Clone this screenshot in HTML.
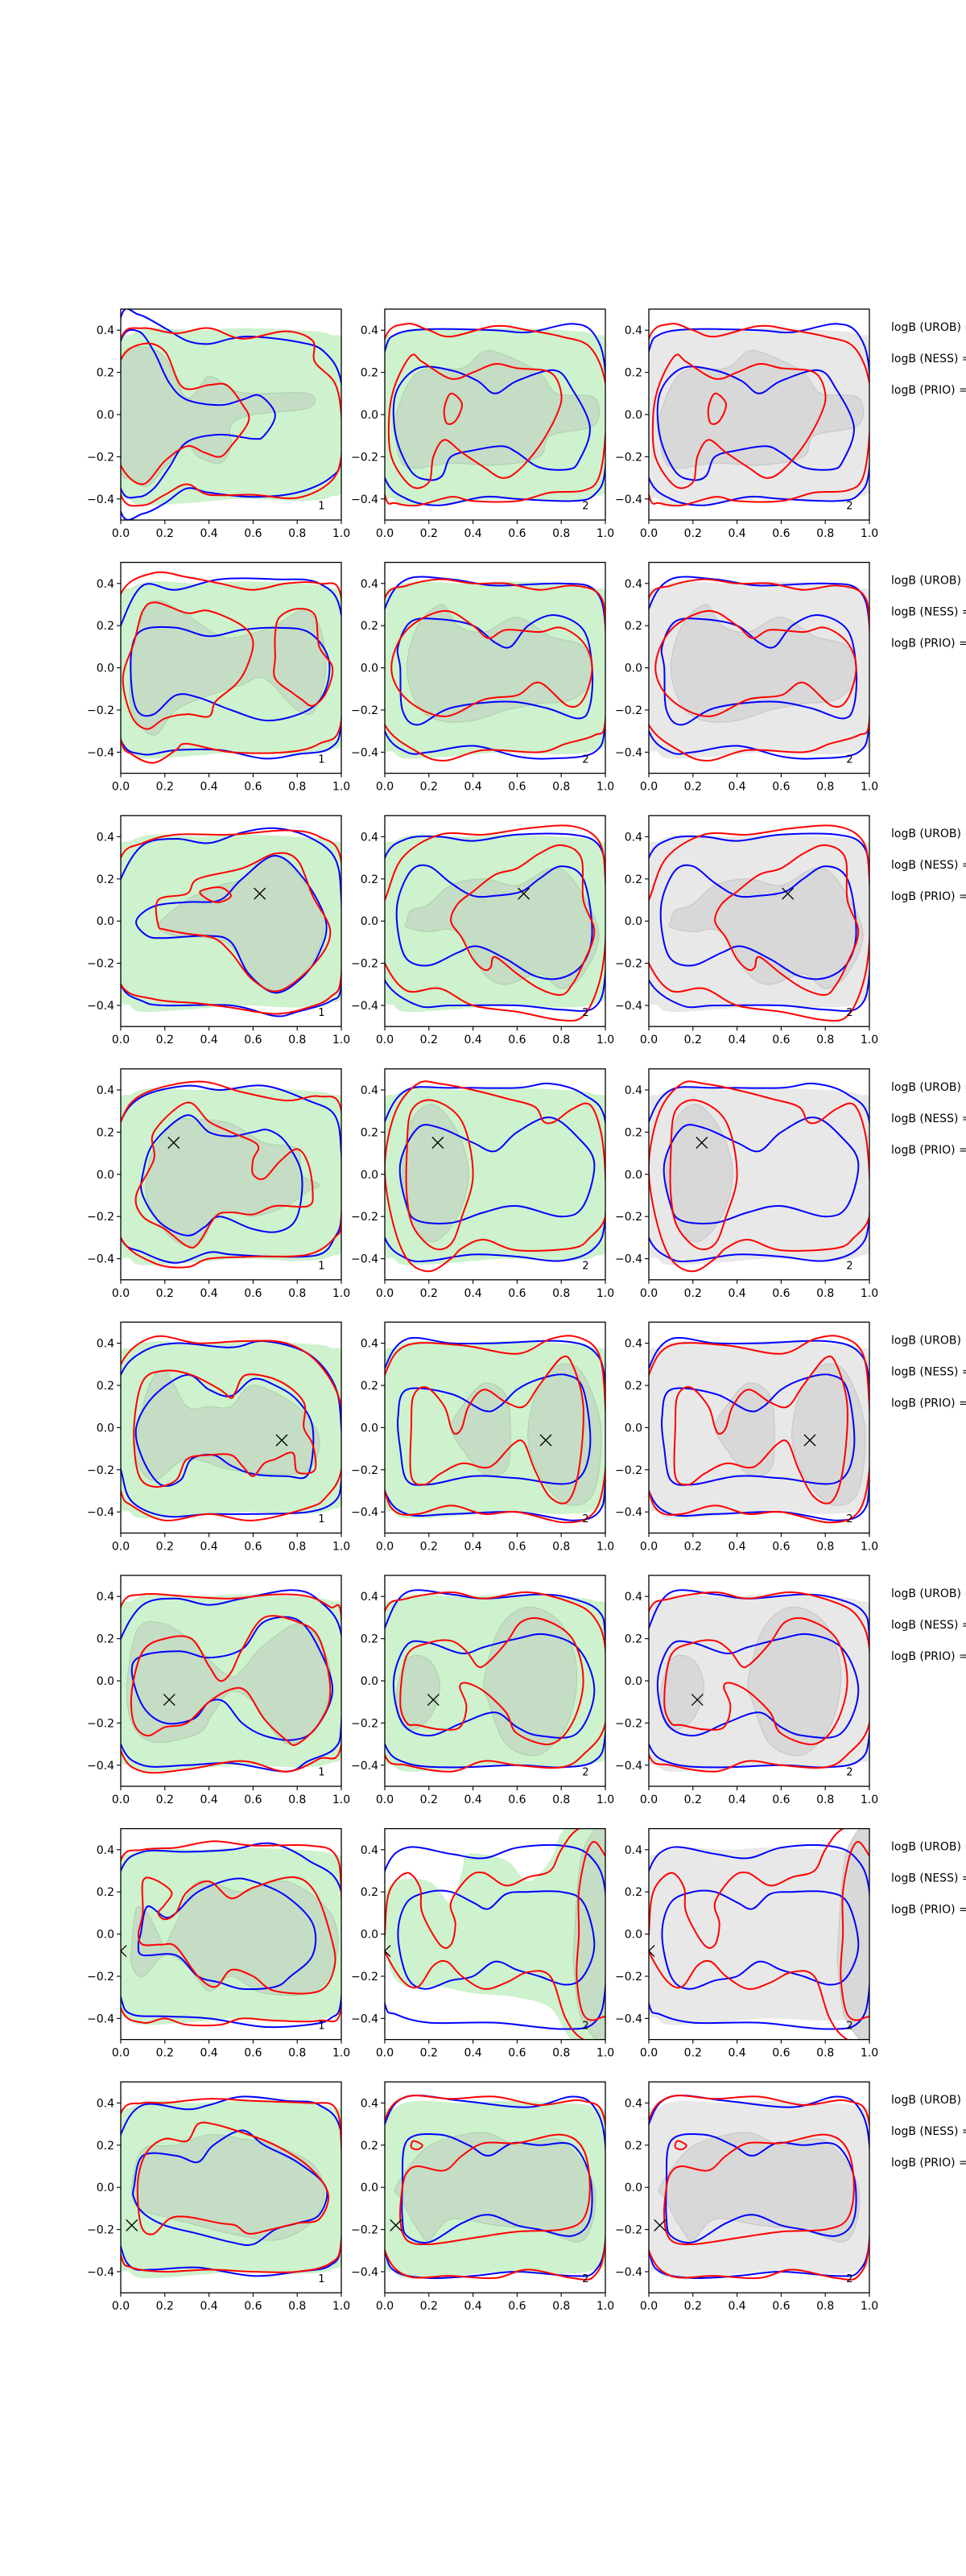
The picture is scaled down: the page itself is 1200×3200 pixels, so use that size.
<!DOCTYPE html>
<html><head><meta charset="utf-8">
<style>
html,body{margin:0;padding:0;background:#fff;}
svg{display:block;font-family:"DejaVu Sans","Liberation Sans",sans-serif;}
</style></head>
<body>
<svg id="fig" width="1200" height="3200" viewBox="0 0 1200 3200" xmlns="http://www.w3.org/2000/svg"></svg>
<script>
// ---- data (x in [0,1], y in [-0.5,0.5]) ----
const xTicks = [0.0,0.2,0.4,0.6,0.8,1.0];
const yTicks = [-0.4,-0.2,0.0,0.2,0.4];
const panelLabels = ["1","2","2"];
const legendLines = ["logB (UROB) =","logB (NESS) =","logB (PRIO) ="];
const markers = [null,null,[0.63,0.13],[0.24,0.15],[0.73,-0.06],[0.22,-0.09],[0.0,-0.08],[0.05,-0.18]];

const greenOuter = [[-0.01,0.3],[0.05,0.38],[0.15,0.41],[0.35,0.4],[0.55,0.41],[0.8,0.4],[0.95,0.38],[1.01,0.3],[1.01,-0.3],[0.95,-0.39],[0.8,-0.41],[0.55,-0.4],[0.3,-0.42],[0.1,-0.43],[0.04,-0.4],[-0.01,-0.32]];
const greenOuterR7C2 = [[0.0,0.15],[0.05,0.25],[0.2,0.25],[0.3,0.15],[0.35,0.3],[0.38,0.38],[0.55,0.35],[0.65,0.25],[0.75,0.35],[0.82,0.5],[1.01,0.52],[1.01,-0.52],[0.85,-0.5],[0.75,-0.35],[0.6,-0.3],[0.4,-0.28],[0.25,-0.25],[0.1,-0.25],[0.02,-0.15]];

const greyInnerC1 = [
 [[0,0.25],[0.1,0.32],[0.2,0.27],[0.3,0.08],[0.4,0.18],[0.5,0.12],[0.6,0.1],[0.85,0.1],[0.85,0.03],[0.6,0.0],[0.5,-0.05],[0.5,-0.15],[0.45,-0.23],[0.35,-0.2],[0.3,-0.15],[0.2,-0.25],[0.12,-0.34],[0.05,-0.3],[0,-0.25]],
 [[0.05,0.05],[0.1,0.25],[0.17,0.32],[0.3,0.25],[0.45,0.15],[0.55,0.15],[0.7,0.2],[0.82,0.27],[0.9,0.2],[0.93,0.0],[0.88,-0.2],[0.8,-0.2],[0.65,-0.05],[0.55,-0.08],[0.4,-0.13],[0.25,-0.2],[0.15,-0.32],[0.05,-0.2]],
 [[0.17,-0.02],[0.3,0.1],[0.45,0.17],[0.55,0.2],[0.65,0.3],[0.75,0.28],[0.88,0.1],[0.92,-0.05],[0.85,-0.22],[0.72,-0.33],[0.6,-0.27],[0.5,-0.12],[0.4,-0.08],[0.25,-0.07]],
 [[0.12,0.0],[0.15,0.12],[0.25,0.25],[0.35,0.26],[0.5,0.24],[0.65,0.15],[0.8,0.12],[0.82,0.0],[0.9,-0.05],[0.85,-0.08],[0.75,-0.15],[0.6,-0.2],[0.5,-0.17],[0.42,-0.2],[0.38,-0.3],[0.3,-0.34],[0.2,-0.27],[0.12,-0.12]],
 [[0.08,0.0],[0.13,0.2],[0.2,0.27],[0.3,0.1],[0.4,0.1],[0.5,0.1],[0.6,0.2],[0.8,0.1],[0.9,-0.05],[0.85,-0.2],[0.7,-0.22],[0.5,-0.2],[0.3,-0.15],[0.15,-0.25],[0.07,-0.15]],
 [[0.03,0.0],[0.08,0.25],[0.2,0.27],[0.33,0.18],[0.42,0.08],[0.5,0.02],[0.55,0.05],[0.65,0.17],[0.83,0.27],[0.95,0.05],[0.9,-0.2],[0.78,-0.3],[0.7,-0.25],[0.6,-0.1],[0.5,-0.05],[0.42,-0.15],[0.35,-0.25],[0.15,-0.29],[0.05,-0.2]],
 [[0.05,-0.05],[0.07,0.12],[0.12,0.1],[0.17,0.0],[0.2,-0.05],[0.25,0.05],[0.35,0.25],[0.55,0.2],[0.75,0.25],[0.95,0.1],[0.98,-0.1],[0.88,-0.27],[0.65,-0.28],[0.5,-0.2],[0.4,-0.27],[0.3,-0.15],[0.2,-0.1],[0.1,-0.2],[0.05,-0.15]],
 [[0.05,0.0],[0.1,0.18],[0.25,0.2],[0.4,0.25],[0.55,0.23],[0.7,0.2],[0.88,0.1],[0.92,-0.05],[0.85,-0.18],[0.7,-0.25],[0.5,-0.22],[0.35,-0.18],[0.2,-0.14],[0.08,-0.1]]
];
const greyInnerC2 = [
 [[[0.05,0.0],[0.15,0.2],[0.35,0.22],[0.45,0.3],[0.55,0.28],[0.7,0.2],[0.78,0.1],[0.95,0.08],[0.95,-0.05],[0.75,-0.1],[0.7,-0.2],[0.5,-0.24],[0.3,-0.23],[0.1,-0.25],[0.05,-0.12]]],
 [[[0.1,0.0],[0.15,0.2],[0.26,0.3],[0.33,0.2],[0.45,0.17],[0.6,0.24],[0.75,0.15],[0.9,0.1],[0.94,-0.05],[0.85,-0.15],[0.7,-0.17],[0.55,-0.2],[0.4,-0.25],[0.25,-0.25],[0.15,-0.18]]],
 [[[0.1,0.0],[0.12,0.05],[0.2,0.08],[0.3,0.17],[0.45,0.2],[0.6,0.17],[0.75,0.25],[0.85,0.2],[0.97,-0.05],[0.9,-0.25],[0.8,-0.32],[0.7,-0.25],[0.55,-0.3],[0.45,-0.25],[0.37,-0.1],[0.3,-0.04],[0.2,-0.05],[0.1,-0.03]]],
 [[[0.08,0.0],[0.12,0.25],[0.22,0.33],[0.33,0.2],[0.38,0.0],[0.33,-0.2],[0.22,-0.32],[0.12,-0.23]]],
 [[[0.3,0.0],[0.35,0.1],[0.45,0.21],[0.55,0.15],[0.57,-0.05],[0.55,-0.2],[0.45,-0.22],[0.35,-0.1]],[[0.65,0.0],[0.7,0.2],[0.8,0.3],[0.9,0.25],[0.98,0.0],[0.95,-0.3],[0.85,-0.37],[0.75,-0.3],[0.67,-0.15]]],
 [[[0.05,-0.1],[0.1,0.1],[0.2,0.1],[0.25,-0.03],[0.2,-0.18],[0.1,-0.23]],[[0.45,0.0],[0.52,0.25],[0.65,0.35],[0.8,0.27],[0.87,0.05],[0.83,-0.2],[0.7,-0.35],[0.55,-0.3],[0.47,-0.1]]],
 [[[0.86,0.0],[0.9,0.4],[1.02,0.45],[1.02,-0.45],[0.9,-0.42],[0.86,-0.2]]],
 [[[0.05,0.0],[0.15,0.15],[0.25,0.22],[0.45,0.26],[0.6,0.2],[0.8,0.22],[0.95,0.0],[0.9,-0.25],[0.7,-0.2],[0.5,-0.18],[0.3,-0.15],[0.2,-0.25],[0.15,-0.2],[0.07,-0.05]]]
];

const redOuterC1 = [
 [[0,0.36],[0.1,0.41],[0.25,0.385],[0.4,0.41],[0.55,0.36],[0.75,0.395],[0.87,0.35],[0.88,0.25],[0.97,0.15],[1.0,0],[1.0,-0.2],[0.95,-0.32],[0.8,-0.395],[0.6,-0.38],[0.4,-0.38],[0.3,-0.33],[0.2,-0.38],[0.1,-0.43],[0,-0.38],[-0.05,0]],
 [[0,0.35],[0.15,0.45],[0.3,0.43],[0.45,0.4],[0.6,0.37],[0.75,0.4],[0.9,0.4],[1,0.33],[1,-0.25],[0.9,-0.36],[0.75,-0.4],[0.5,-0.4],[0.3,-0.36],[0.25,-0.39],[0.15,-0.45],[0.05,-0.41],[0,-0.34],[-0.05,0]],
 [[0,0.3],[0.1,0.37],[0.25,0.41],[0.5,0.41],[0.75,0.43],[0.9,0.4],[1,0.28],[1,-0.25],[0.95,-0.36],[0.85,-0.41],[0.7,-0.44],[0.5,-0.41],[0.35,-0.39],[0.15,-0.37],[0,-0.3],[-0.05,0]],
 [[0,0.25],[0.1,0.38],[0.35,0.44],[0.55,0.39],[0.75,0.35],[0.9,0.37],[1,0.3],[1,-0.2],[0.97,-0.3],[0.85,-0.38],[0.6,-0.39],[0.4,-0.4],[0.3,-0.44],[0.15,-0.42],[0,-0.3],[-0.05,0]],
 [[0,0.3],[0.15,0.43],[0.35,0.4],[0.55,0.41],[0.75,0.4],[0.9,0.3],[1,0.1],[1,-0.2],[0.93,-0.33],[0.85,-0.38],[0.6,-0.44],[0.4,-0.41],[0.2,-0.44],[0.05,-0.37],[0,-0.3],[-0.05,0]],
 [[0,0.35],[0.1,0.41],[0.3,0.4],[0.5,0.39],[0.7,0.41],[0.85,0.4],[0.95,0.35],[1,0.3],[1,-0.3],[0.9,-0.37],[0.75,-0.43],[0.55,-0.38],[0.3,-0.42],[0.1,-0.43],[0,-0.33],[-0.05,0]],
 [[0,0.35],[0.1,0.4],[0.25,0.41],[0.42,0.44],[0.6,0.42],[0.85,0.42],[0.97,0.38],[1,0.2],[1,-0.35],[0.9,-0.41],[0.7,-0.41],[0.55,-0.4],[0.45,-0.43],[0.3,-0.43],[0.2,-0.4],[0.1,-0.42],[0,-0.35],[-0.05,0]],
 [[0,0.35],[0.1,0.4],[0.2,0.4],[0.4,0.42],[0.6,0.41],[0.85,0.4],[0.97,0.38],[1,0.2],[1,-0.25],[0.95,-0.36],[0.8,-0.4],[0.6,-0.4],[0.4,-0.39],[0.2,-0.4],[0.05,-0.38],[0,-0.32],[-0.05,0]]
];
const redInnerC1 = [
 [[[0,0.26],[0.1,0.335],[0.2,0.3],[0.28,0.13],[0.4,0.14],[0.48,0.14],[0.55,0.05],[0.58,-0.03],[0.5,-0.15],[0.45,-0.2],[0.38,-0.18],[0.3,-0.15],[0.2,-0.22],[0.1,-0.33],[0,-0.24],[-0.05,0]]],
 [[[0.06,0.12],[0.1,0.27],[0.16,0.31],[0.3,0.26],[0.4,0.27],[0.55,0.2],[0.6,0.12],[0.57,0.0],[0.52,-0.08],[0.43,-0.16],[0.4,-0.23],[0.3,-0.22],[0.2,-0.24],[0.12,-0.29],[0.05,-0.23],[0.01,-0.05]],[[0.72,0.24],[0.8,0.28],[0.88,0.25],[0.9,0.1],[0.96,0.0],[0.93,-0.12],[0.87,-0.18],[0.82,-0.15],[0.78,-0.12],[0.7,-0.05],[0.7,0.05],[0.7,0.16]]],
 [[[0.17,0.1],[0.3,0.13],[0.35,0.2],[0.55,0.25],[0.7,0.32],[0.8,0.29],[0.87,0.12],[0.95,-0.05],[0.88,-0.2],[0.72,-0.33],[0.6,-0.28],[0.5,-0.15],[0.42,-0.08],[0.3,-0.06],[0.2,-0.04],[0.17,-0.02]],[[0.36,0.14],[0.45,0.16],[0.5,0.12],[0.45,0.09],[0.4,0.1]]],
 [[[0.07,-0.1],[0.15,0.07],[0.15,0.2],[0.3,0.34],[0.4,0.25],[0.5,0.2],[0.62,0.14],[0.6,0.07],[0.6,0.0],[0.65,-0.02],[0.72,0.06],[0.8,0.12],[0.85,0.05],[0.87,-0.08],[0.85,-0.15],[0.7,-0.15],[0.6,-0.19],[0.5,-0.18],[0.43,-0.2],[0.35,-0.33],[0.3,-0.34],[0.2,-0.26],[0.1,-0.2]]],
 [[[0.06,0.0],[0.1,0.22],[0.2,0.27],[0.32,0.25],[0.45,0.18],[0.5,0.14],[0.52,0.17],[0.57,0.25],[0.72,0.22],[0.83,0.12],[0.83,0.0],[0.87,-0.08],[0.88,-0.2],[0.8,-0.21],[0.78,-0.12],[0.7,-0.15],[0.65,-0.17],[0.6,-0.23],[0.55,-0.18],[0.5,-0.13],[0.4,-0.13],[0.3,-0.15],[0.25,-0.25],[0.15,-0.28],[0.08,-0.22]]],
 [[[0.05,-0.05],[0.1,0.14],[0.2,0.2],[0.32,0.2],[0.4,0.07],[0.45,0.0],[0.5,0.04],[0.55,0.15],[0.65,0.3],[0.8,0.28],[0.9,0.2],[0.95,-0.05],[0.9,-0.2],[0.8,-0.3],[0.75,-0.28],[0.65,-0.18],[0.57,-0.05],[0.5,-0.04],[0.4,-0.1],[0.3,-0.2],[0.2,-0.22],[0.12,-0.26],[0.06,-0.2]]],
 [[[0.08,0.0],[0.1,0.1],[0.1,0.25],[0.15,0.26],[0.23,0.2],[0.2,0.14],[0.17,0.1],[0.2,0.07],[0.25,0.1],[0.3,0.2],[0.4,0.25],[0.5,0.17],[0.6,0.22],[0.78,0.27],[0.88,0.2],[0.95,0.0],[0.97,-0.15],[0.9,-0.27],[0.7,-0.27],[0.6,-0.2],[0.5,-0.17],[0.43,-0.25],[0.35,-0.2],[0.25,-0.06],[0.18,-0.05],[0.1,-0.05]]],
 [[[0.08,0.05],[0.12,0.17],[0.2,0.23],[0.3,0.22],[0.35,0.3],[0.42,0.3],[0.55,0.26],[0.7,0.2],[0.85,0.1],[0.94,-0.03],[0.9,-0.15],[0.8,-0.17],[0.68,-0.2],[0.58,-0.22],[0.52,-0.18],[0.45,-0.17],[0.3,-0.14],[0.22,-0.15],[0.15,-0.22],[0.1,-0.2],[0.08,-0.1]]]
];
const blueOuterC1 = [
 [[0,0.46],[0.08,0.475],[0.2,0.41],[0.3,0.35],[0.4,0.335],[0.5,0.36],[0.6,0.37],[0.8,0.345],[0.92,0.3],[1.0,0.15],[1.0,-0.2],[0.95,-0.3],[0.8,-0.37],[0.6,-0.39],[0.4,-0.37],[0.3,-0.35],[0.2,-0.42],[0.1,-0.47],[0.0,-0.46],[-0.05,0]],
 [[0,0.2],[0.1,0.39],[0.25,0.37],[0.45,0.42],[0.7,0.42],[0.9,0.4],[1,0.25],[1,-0.25],[0.95,-0.38],[0.8,-0.41],[0.65,-0.43],[0.45,-0.39],[0.25,-0.39],[0.1,-0.41],[0,-0.34],[-0.05,0]],
 [[0,0.2],[0.1,0.36],[0.25,0.39],[0.4,0.37],[0.55,0.42],[0.7,0.44],[0.85,0.4],[0.97,0.3],[1,0.1],[1,-0.3],[0.95,-0.38],[0.8,-0.43],[0.7,-0.45],[0.5,-0.4],[0.2,-0.4],[0.1,-0.38],[0,-0.3],[-0.05,0]],
 [[0,0.25],[0.1,0.37],[0.3,0.42],[0.45,0.4],[0.65,0.42],[0.85,0.35],[0.97,0.28],[1,0.1],[1,-0.2],[0.97,-0.3],[0.9,-0.38],[0.7,-0.39],[0.5,-0.38],[0.4,-0.37],[0.25,-0.42],[0.1,-0.37],[0,-0.3],[-0.05,0]],
 [[0,0.25],[0.1,0.36],[0.25,0.4],[0.5,0.38],[0.65,0.41],[0.85,0.35],[0.97,0.2],[1,0.0],[1,-0.25],[0.97,-0.35],[0.85,-0.4],[0.6,-0.41],[0.4,-0.41],[0.2,-0.42],[0.05,-0.35],[0,-0.2],[-0.05,0]],
 [[0,0.2],[0.1,0.36],[0.25,0.39],[0.4,0.36],[0.55,0.39],[0.78,0.43],[0.9,0.38],[1,0.22],[1,-0.2],[0.97,-0.32],[0.85,-0.38],[0.75,-0.43],[0.5,-0.39],[0.3,-0.4],[0.1,-0.4],[0,-0.3],[-0.05,0]],
 [[0,0.3],[0.1,0.39],[0.3,0.39],[0.5,0.4],[0.68,0.43],[0.85,0.35],[1,0.2],[1,-0.3],[0.95,-0.4],[0.85,-0.43],[0.65,-0.44],[0.4,-0.4],[0.2,-0.39],[0.05,-0.38],[0,-0.3],[-0.05,0]],
 [[0,0.25],[0.1,0.39],[0.3,0.37],[0.4,0.39],[0.55,0.43],[0.75,0.41],[0.9,0.39],[1,0.25],[1,-0.25],[0.95,-0.37],[0.8,-0.4],[0.6,-0.42],[0.35,-0.38],[0.15,-0.39],[0.05,-0.38],[0,-0.28],[-0.05,0]]
];
const blueInnerC1 = [
 [[0,0.35],[0.08,0.395],[0.15,0.3],[0.22,0.15],[0.3,0.07],[0.45,0.045],[0.55,0.07],[0.63,0.09],[0.7,0.0],[0.65,-0.1],[0.6,-0.115],[0.45,-0.095],[0.3,-0.13],[0.22,-0.25],[0.15,-0.35],[0.08,-0.39],[0,-0.35],[-0.05,0]],
 [[0.05,0.09],[0.1,0.18],[0.25,0.19],[0.4,0.15],[0.55,0.18],[0.7,0.19],[0.85,0.17],[0.94,0.05],[0.93,-0.1],[0.85,-0.2],[0.67,-0.25],[0.5,-0.2],[0.35,-0.14],[0.25,-0.13],[0.15,-0.22],[0.08,-0.21],[0.05,-0.1]],
 [[0.07,0.0],[0.15,0.07],[0.3,0.09],[0.45,0.1],[0.55,0.2],[0.7,0.31],[0.83,0.2],[0.93,0.0],[0.9,-0.15],[0.82,-0.27],[0.7,-0.34],[0.58,-0.25],[0.5,-0.1],[0.4,-0.07],[0.2,-0.08],[0.12,-0.07]],
 [[0.1,0.0],[0.15,0.15],[0.3,0.28],[0.4,0.2],[0.5,0.18],[0.6,0.2],[0.67,0.21],[0.75,0.15],[0.82,0.0],[0.8,-0.2],[0.72,-0.27],[0.6,-0.26],[0.45,-0.2],[0.38,-0.25],[0.3,-0.29],[0.18,-0.23],[0.1,-0.1]],
 [[0.07,0.0],[0.15,0.15],[0.3,0.25],[0.4,0.18],[0.5,0.15],[0.6,0.23],[0.7,0.2],[0.8,0.13],[0.87,0.0],[0.85,-0.22],[0.75,-0.23],[0.6,-0.22],[0.5,-0.18],[0.42,-0.13],[0.32,-0.15],[0.27,-0.25],[0.18,-0.27],[0.1,-0.15]],
 [[0.05,0.05],[0.1,0.12],[0.27,0.14],[0.4,0.11],[0.55,0.15],[0.65,0.28],[0.8,0.29],[0.9,0.15],[0.96,-0.05],[0.88,-0.23],[0.78,-0.28],[0.65,-0.26],[0.55,-0.2],[0.47,-0.1],[0.4,-0.1],[0.33,-0.18],[0.2,-0.2],[0.1,-0.12]],
 [[0.09,0.0],[0.12,0.13],[0.2,0.08],[0.25,0.1],[0.35,0.2],[0.5,0.26],[0.6,0.25],[0.75,0.18],[0.87,0.05],[0.87,-0.1],[0.77,-0.2],[0.7,-0.25],[0.55,-0.26],[0.45,-0.23],[0.35,-0.2],[0.25,-0.1],[0.1,-0.1],[0.08,-0.05]],
 [[0.06,0.0],[0.1,0.15],[0.25,0.15],[0.35,0.12],[0.42,0.2],[0.55,0.27],[0.65,0.2],[0.8,0.12],[0.93,0.0],[0.9,-0.13],[0.8,-0.17],[0.7,-0.2],[0.6,-0.27],[0.5,-0.26],[0.35,-0.22],[0.2,-0.18],[0.1,-0.12],[0.06,-0.05]]
];

const redOuterC2 = [
 [[0,0.36],[0.1,0.43],[0.2,0.4],[0.3,0.37],[0.5,0.42],[0.65,0.4],[0.8,0.37],[0.93,0.32],[1,0.15],[1,-0.1],[0.97,-0.3],[0.9,-0.36],[0.75,-0.37],[0.6,-0.41],[0.4,-0.41],[0.3,-0.39],[0.15,-0.43],[0.05,-0.42],[0,-0.38],[-0.05,0]],
 [[0,0.33],[0.1,0.39],[0.25,0.42],[0.4,0.4],[0.55,0.4],[0.7,0.37],[0.85,0.39],[0.97,0.35],[1,0.2],[1,-0.25],[0.95,-0.32],[0.82,-0.36],[0.7,-0.4],[0.45,-0.39],[0.27,-0.44],[0.15,-0.4],[0,-0.27],[-0.05,0]],
 [[0,0.1],[0.08,0.3],[0.25,0.41],[0.45,0.41],[0.65,0.44],[0.85,0.45],[0.97,0.38],[1,0.2],[1,-0.1],[0.97,-0.3],[0.9,-0.45],[0.8,-0.47],[0.6,-0.43],[0.4,-0.4],[0.25,-0.32],[0.1,-0.33],[0,-0.2],[-0.05,0]],
 [[0,0.05],[0.05,0.3],[0.15,0.43],[0.25,0.43],[0.4,0.4],[0.55,0.36],[0.68,0.32],[0.72,0.25],[0.77,0.25],[0.85,0.31],[0.93,0.33],[0.98,0.2],[1,0.0],[1,-0.2],[0.93,-0.3],[0.85,-0.35],[0.6,-0.36],[0.45,-0.31],[0.35,-0.35],[0.3,-0.4],[0.2,-0.46],[0.1,-0.4],[0.03,-0.2]],
 [[0,0.25],[0.1,0.39],[0.35,0.39],[0.6,0.35],[0.75,0.42],[0.87,0.43],[0.97,0.35],[1,0.1],[1,-0.2],[0.95,-0.4],[0.82,-0.45],[0.6,-0.4],[0.45,-0.41],[0.3,-0.37],[0.15,-0.41],[0.05,-0.4],[0,-0.3],[-0.05,0]],
 [[0,0.33],[0.1,0.39],[0.3,0.42],[0.45,0.39],[0.65,0.42],[0.85,0.37],[0.95,0.3],[1,0.15],[1,-0.2],[0.9,-0.35],[0.8,-0.41],[0.6,-0.4],[0.45,-0.38],[0.3,-0.43],[0.1,-0.4],[0,-0.35],[-0.05,0]],
 [[0,0.0],[0.02,0.2],[0.1,0.29],[0.16,0.22],[0.17,0.1],[0.25,-0.05],[0.3,-0.05],[0.32,0.05],[0.3,0.15],[0.38,0.27],[0.45,0.29],[0.55,0.23],[0.65,0.27],[0.75,0.3],[0.8,0.4],[0.88,0.5],[1.05,0.55],[1.05,-0.55],[0.9,-0.5],[0.82,-0.4],[0.75,-0.2],[0.65,-0.18],[0.55,-0.23],[0.45,-0.26],[0.35,-0.2],[0.28,-0.13],[0.22,-0.15],[0.15,-0.25],[0.08,-0.22],[0.0,-0.08]],
 [[0,0.32],[0.1,0.43],[0.3,0.42],[0.5,0.43],[0.7,0.39],[0.9,0.41],[1,0.3],[1,-0.25],[0.95,-0.42],[0.85,-0.43],[0.65,-0.39],[0.5,-0.43],[0.3,-0.42],[0.1,-0.42],[0,-0.3],[-0.05,0]]
];
const redInnerC2 = [
 [[[0.05,0.15],[0.12,0.28],[0.17,0.25],[0.3,0.17],[0.4,0.2],[0.5,0.24],[0.6,0.22],[0.75,0.2],[0.8,0.1],[0.78,0.0],[0.7,-0.15],[0.6,-0.27],[0.53,-0.3],[0.45,-0.25],[0.35,-0.18],[0.27,-0.12],[0.22,-0.2],[0.2,-0.32],[0.12,-0.34],[0.03,-0.2],[0.02,0.0]],[[0.3,0.1],[0.35,0.05],[0.32,-0.03],[0.28,-0.04],[0.27,0.03]]],
 [[[0.03,0.0],[0.1,0.18],[0.27,0.27],[0.4,0.2],[0.47,0.14],[0.55,0.18],[0.7,0.17],[0.8,0.19],[0.9,0.12],[0.94,0.0],[0.9,-0.15],[0.83,-0.18],[0.7,-0.07],[0.6,-0.13],[0.45,-0.15],[0.27,-0.23],[0.1,-0.15]]],
 [[[0.3,0.0],[0.33,0.08],[0.4,0.14],[0.5,0.22],[0.6,0.25],[0.7,0.32],[0.8,0.36],[0.89,0.3],[0.9,0.1],[0.95,-0.05],[0.9,-0.2],[0.85,-0.3],[0.8,-0.35],[0.7,-0.32],[0.6,-0.25],[0.5,-0.17],[0.48,-0.22],[0.45,-0.23],[0.4,-0.18],[0.35,-0.08]]],
 [[[0.1,0.1],[0.12,0.3],[0.22,0.35],[0.35,0.25],[0.4,0.0],[0.35,-0.2],[0.3,-0.33],[0.22,-0.35],[0.13,-0.25],[0.1,-0.1]]],
 [[[0.12,0.0],[0.13,0.15],[0.19,0.19],[0.27,0.1],[0.3,0.0],[0.32,-0.03],[0.35,0.0],[0.38,0.1],[0.45,0.18],[0.55,0.12],[0.63,0.1],[0.7,0.2],[0.8,0.33],[0.85,0.3],[0.9,0.1],[0.88,-0.2],[0.83,-0.35],[0.75,-0.33],[0.68,-0.2],[0.63,-0.07],[0.58,-0.08],[0.5,-0.17],[0.45,-0.19],[0.35,-0.17],[0.25,-0.22],[0.18,-0.27],[0.12,-0.23]]],
 [[[0.07,-0.1],[0.1,0.12],[0.2,0.18],[0.3,0.19],[0.37,0.14],[0.42,0.07],[0.46,0.08],[0.55,0.18],[0.62,0.28],[0.72,0.29],[0.85,0.2],[0.9,0.0],[0.85,-0.2],[0.75,-0.3],[0.6,-0.25],[0.55,-0.15],[0.45,-0.05],[0.37,-0.01],[0.34,-0.03],[0.37,-0.12],[0.34,-0.22],[0.25,-0.23],[0.15,-0.21],[0.1,-0.2]]],
 [[[0.88,0.2],[0.92,0.4],[0.97,0.42],[1.05,0.2],[1.05,-0.3],[0.97,-0.4],[0.9,-0.38],[0.87,-0.2],[0.88,0.0]]],
 [[[0.08,0.0],[0.1,0.07],[0.15,0.1],[0.27,0.08],[0.35,0.15],[0.45,0.21],[0.6,0.21],[0.8,0.25],[0.9,0.18],[0.93,0.0],[0.9,-0.15],[0.8,-0.2],[0.6,-0.21],[0.4,-0.24],[0.2,-0.27],[0.1,-0.25],[0.07,-0.15]],[[0.13,0.22],[0.17,0.2],[0.15,0.18],[0.12,0.19]]]
];
const blueOuterC2 = [
 [[0,0.3],[0.05,0.38],[0.2,0.405],[0.5,0.4],[0.65,0.39],[0.85,0.43],[0.95,0.38],[1.0,0.2],[1.0,-0.25],[0.95,-0.38],[0.85,-0.41],[0.6,-0.4],[0.45,-0.39],[0.25,-0.43],[0.1,-0.4],[0,-0.3],[-0.05,0]],
 [[0,0.28],[0.1,0.42],[0.3,0.42],[0.5,0.39],[0.8,0.4],[0.95,0.37],[1,0.2],[1,-0.25],[0.95,-0.4],[0.75,-0.43],[0.6,-0.42],[0.4,-0.37],[0.2,-0.4],[0.1,-0.4],[0,-0.3],[-0.05,0]],
 [[0,0.3],[0.1,0.39],[0.25,0.4],[0.4,0.38],[0.6,0.41],[0.85,0.41],[0.97,0.36],[1,0.2],[1,-0.25],[0.95,-0.41],[0.8,-0.42],[0.6,-0.4],[0.3,-0.4],[0.15,-0.4],[0,-0.28],[-0.05,0]],
 [[0,0.25],[0.1,0.4],[0.3,0.41],[0.6,0.41],[0.75,0.43],[0.9,0.38],[1,0.25],[1,-0.2],[0.95,-0.35],[0.8,-0.41],[0.6,-0.39],[0.4,-0.38],[0.2,-0.41],[0.1,-0.4],[0,-0.3],[-0.05,0]],
 [[0,0.28],[0.1,0.42],[0.3,0.4],[0.5,0.4],[0.8,0.41],[0.95,0.36],[1,0.2],[1,-0.25],[0.97,-0.4],[0.85,-0.44],[0.6,-0.4],[0.3,-0.41],[0.1,-0.41],[0,-0.3],[-0.05,0]],
 [[0,0.25],[0.1,0.42],[0.3,0.41],[0.45,0.39],[0.7,0.41],[0.85,0.39],[0.97,0.33],[1,0.2],[1,-0.25],[0.95,-0.38],[0.8,-0.41],[0.6,-0.4],[0.3,-0.41],[0.1,-0.39],[0,-0.3],[-0.05,0]],
 [[0,0.3],[0.1,0.41],[0.3,0.38],[0.45,0.36],[0.6,0.41],[0.8,0.42],[0.93,0.37],[1,0.2],[1,-0.25],[0.95,-0.42],[0.8,-0.45],[0.5,-0.42],[0.2,-0.42],[0.05,-0.38],[0,-0.33],[-0.05,0]],
 [[0,0.3],[0.1,0.43],[0.35,0.41],[0.65,0.38],[0.85,0.43],[0.95,0.38],[1,0.2],[1,-0.25],[0.95,-0.4],[0.85,-0.42],[0.6,-0.4],[0.4,-0.42],[0.2,-0.43],[0.05,-0.4],[0,-0.3],[-0.05,0]]
];
const blueInnerC2 = [
 [[0.05,0.1],[0.15,0.22],[0.3,0.21],[0.42,0.16],[0.5,0.1],[0.6,0.16],[0.77,0.21],[0.85,0.12],[0.93,-0.06],[0.88,-0.22],[0.83,-0.26],[0.7,-0.25],[0.6,-0.18],[0.53,-0.15],[0.4,-0.17],[0.3,-0.2],[0.26,-0.29],[0.2,-0.31],[0.12,-0.27],[0.05,-0.1]],
 [[0.06,0.1],[0.12,0.22],[0.25,0.23],[0.4,0.2],[0.5,0.12],[0.57,0.1],[0.65,0.2],[0.77,0.25],[0.9,0.18],[0.94,0.0],[0.93,-0.18],[0.88,-0.24],[0.73,-0.19],[0.55,-0.16],[0.3,-0.19],[0.15,-0.27],[0.08,-0.2],[0.07,0.0]],
 [[0.06,0.1],[0.12,0.24],[0.2,0.26],[0.3,0.18],[0.4,0.12],[0.5,0.12],[0.62,0.14],[0.7,0.2],[0.8,0.26],[0.9,0.2],[0.94,-0.05],[0.9,-0.2],[0.8,-0.27],[0.68,-0.26],[0.55,-0.18],[0.42,-0.12],[0.33,-0.15],[0.2,-0.21],[0.1,-0.18],[0.06,-0.05]],
 [[0.07,0.05],[0.15,0.22],[0.25,0.22],[0.4,0.15],[0.5,0.11],[0.6,0.2],[0.75,0.27],[0.88,0.17],[0.95,0.05],[0.9,-0.15],[0.8,-0.2],[0.6,-0.15],[0.45,-0.18],[0.3,-0.23],[0.15,-0.22],[0.1,-0.15]],
 [[0.06,0.05],[0.1,0.18],[0.3,0.16],[0.45,0.08],[0.52,0.1],[0.6,0.18],[0.7,0.23],[0.82,0.25],[0.9,0.18],[0.93,-0.1],[0.85,-0.26],[0.6,-0.24],[0.4,-0.23],[0.2,-0.27],[0.1,-0.25],[0.07,-0.1]],
 [[0.04,0.0],[0.1,0.17],[0.2,0.18],[0.35,0.13],[0.45,0.16],[0.6,0.2],[0.73,0.22],[0.88,0.15],[0.95,-0.05],[0.87,-0.25],[0.7,-0.26],[0.6,-0.22],[0.5,-0.15],[0.35,-0.2],[0.2,-0.26],[0.08,-0.2]],
 [[0.06,0.0],[0.1,0.15],[0.2,0.2],[0.3,0.2],[0.4,0.15],[0.47,0.12],[0.55,0.19],[0.65,0.2],[0.8,0.2],[0.9,0.15],[0.95,-0.05],[0.9,-0.2],[0.82,-0.24],[0.7,-0.2],[0.6,-0.17],[0.5,-0.13],[0.4,-0.2],[0.3,-0.22],[0.18,-0.26],[0.1,-0.2]],
 [[0.08,0.0],[0.1,0.22],[0.25,0.25],[0.38,0.2],[0.47,0.15],[0.58,0.21],[0.7,0.2],[0.85,0.2],[0.93,0.05],[0.93,-0.15],[0.85,-0.23],[0.7,-0.2],[0.6,-0.18],[0.47,-0.13],[0.35,-0.17],[0.2,-0.26],[0.1,-0.23],[0.08,-0.15]]
];

// ---- layout ----
const NS = "http://www.w3.org/2000/svg";
const svg = document.getElementById("fig");
const colLeft = [150, 478, 806];
const AX_W = 274, AX_H = 262, TOP0 = 384, ROW_STEP = 314.6;

function el(tag, attrs, parent) {
  const e = document.createElementNS(NS, tag);
  for (const k in attrs) e.setAttribute(k, attrs[k]);
  (parent || svg).appendChild(e);
  return e;
}
function smoothPath(pts, sx, sy) {
  const P = pts.map(p => [sx(p[0]), sy(p[1])]);
  const n = P.length;
  let d = "M" + P[0][0].toFixed(1) + "," + P[0][1].toFixed(1);
  for (let i = 0; i < n; i++) {
    const p0 = P[(i - 1 + n) % n], p1 = P[i], p2 = P[(i + 1) % n], p3 = P[(i + 2) % n];
    const c1x = p1[0] + (p2[0] - p0[0]) / 6, c1y = p1[1] + (p2[1] - p0[1]) / 6;
    const c2x = p2[0] - (p3[0] - p1[0]) / 6, c2y = p2[1] - (p3[1] - p1[1]) / 6;
    d += "C" + c1x.toFixed(1) + "," + c1y.toFixed(1) + " " + c2x.toFixed(1) + "," + c2y.toFixed(1) + " " + p2[0].toFixed(1) + "," + p2[1].toFixed(1);
  }
  return d + "Z";
}

for (let r = 0; r < 8; r++) {
  const top = TOP0 + r * ROW_STEP;
  for (let c = 0; c < 3; c++) {
    const left = colLeft[c];
    const sx = v => left + v * AX_W;
    const sy = v => top + (0.5 - v) * AX_H;
    const g = el("g", {});
    
    
    const cid = "clip" + r + "_" + c;
    const cp = el("clipPath", {id: cid}, g);
    el("rect", {x: left, y: top, width: AX_W, height: AX_H}, cp);
    const plot = el("g", {"clip-path": "url(#" + cid + ")"}, g);

    const outerFill = c === 2 ? "#e8e8e8" : "#cdf2cd";
    const innerFill = c === 2 ? "#d8d8d8" : "#c5dcc5";
    const innerStroke = c === 2 ? "#c4c4c4" : "#a9d2a9";
    const outerShape = (c === 1 && r === 6) ? greenOuterR7C2 : greenOuter;
    const of = el("path", {d: smoothPath(outerShape, sx, sy), fill: outerFill}, plot);
    
    
    const inners = c === 0 ? [greyInnerC1[r]] : greyInnerC2[r];
    inners.forEach(shape => {
      const f = el("path", {d: smoothPath(shape, sx, sy), fill: innerFill, stroke: innerStroke, "stroke-width": 1}, plot);
      
      
    });

    const redO = c === 0 ? redOuterC1[r] : redOuterC2[r];
    const redI = c === 0 ? redInnerC1[r] : redInnerC2[r];
    const bluO = c === 0 ? blueOuterC1[r] : blueOuterC2[r];
    const bluI = c === 0 ? blueInnerC1[r] : blueInnerC2[r];
    [[bluO, "#0000ff", "blue-outer-contour"], [bluI, "#0000ff", "blue-inner-contour"], [redO, "#ff0000", "red-outer-contour"]].forEach(s => {
      const p = el("path", {d: smoothPath(s[0], sx, sy), fill: "none", stroke: s[1], "stroke-width": 2}, plot);
      
      
    });
    redI.forEach(shape => {
      const p = el("path", {d: smoothPath(shape, sx, sy), fill: "none", stroke: "#ff0000", "stroke-width": 2}, plot);
      
      
    });
    const m = markers[r];
    if (m) {
      const mx = sx(m[0]), my = sy(m[1]);
      const mk = el("path", {d: "M" + (mx - 7) + "," + (my - 7) + "L" + (mx + 7) + "," + (my + 7) + "M" + (mx - 7) + "," + (my + 7) + "L" + (mx + 7) + "," + (my - 7), stroke: "#000", "stroke-width": 1.3, fill: "none"}, plot);
      
      
    }
    const pl = el("text", {x: sx(0.91), y: sy(-0.43) + 5, "font-size": 13, "text-anchor": "middle", fill: "#000"}, plot);
    pl.textContent = panelLabels[c];
    
    

    const frame = el("rect", {x: left, y: top, width: AX_W, height: AX_H, fill: "none", stroke: "#000", "stroke-width": 1.3}, g);
    
    

    xTicks.forEach(t => {
      const x = sx(t);
      el("line", {x1: x, y1: top + AX_H, x2: x, y2: top + AX_H + 5, stroke: "#000", "stroke-width": 1.1}, g);
      const tl = el("text", {x: x, y: top + AX_H + 21, "font-size": 14, "text-anchor": "middle", fill: "#000"}, g);
      tl.textContent = t.toFixed(1);
      
      
    });
    yTicks.forEach(t => {
      const y = sy(t);
      el("line", {x1: left - 5, y1: y, x2: left, y2: y, stroke: "#000", "stroke-width": 1.1}, g);
      const tl = el("text", {x: left - 8, y: y + 5, "font-size": 14, "text-anchor": "end", fill: "#000"}, g);
      tl.textContent = (t < 0 ? "\u2212" : "") + Math.abs(t).toFixed(1);
      
      
    });
  }
  legendLines.forEach((s, i) => {
    const t = el("text", {x: 1107, y: top + 27 + i * 39, "font-size": 14, fill: "#000"});
    t.textContent = s;
    
    
  });
}
</script>
</body></html>
